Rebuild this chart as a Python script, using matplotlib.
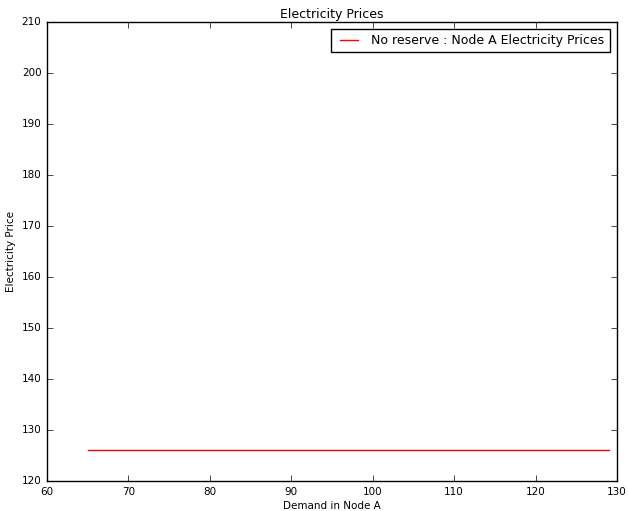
import matplotlib
matplotlib.use("Agg")
import matplotlib.pyplot as plt

demand = [65, 129]
price_no_reserve = [126, 126]

plt.style.use('classic')
fig = plt.figure(figsize=(6.28, 5.11), dpi=100)
ax = fig.add_axes([0.0748, 0.0587, 0.9077, 0.8983])

ax.plot(demand, price_no_reserve, color='red', label="No reserve : Node A Electricity Prices")
ax.set_xlim(60, 130)
ax.set_ylim(120, 210)
ax.tick_params(labelsize=7.5)
ax.set_xlabel("Demand in Node A", fontsize=7.5, labelpad=3)
ax.set_ylabel("Electricity Price", fontsize=7.5, labelpad=4)
ax.set_title("Electricity Prices", fontsize=9, pad=3)
ax.legend(loc="upper right", fontsize=9, borderaxespad=0.6)

fig.savefig("out.png", dpi=100)
